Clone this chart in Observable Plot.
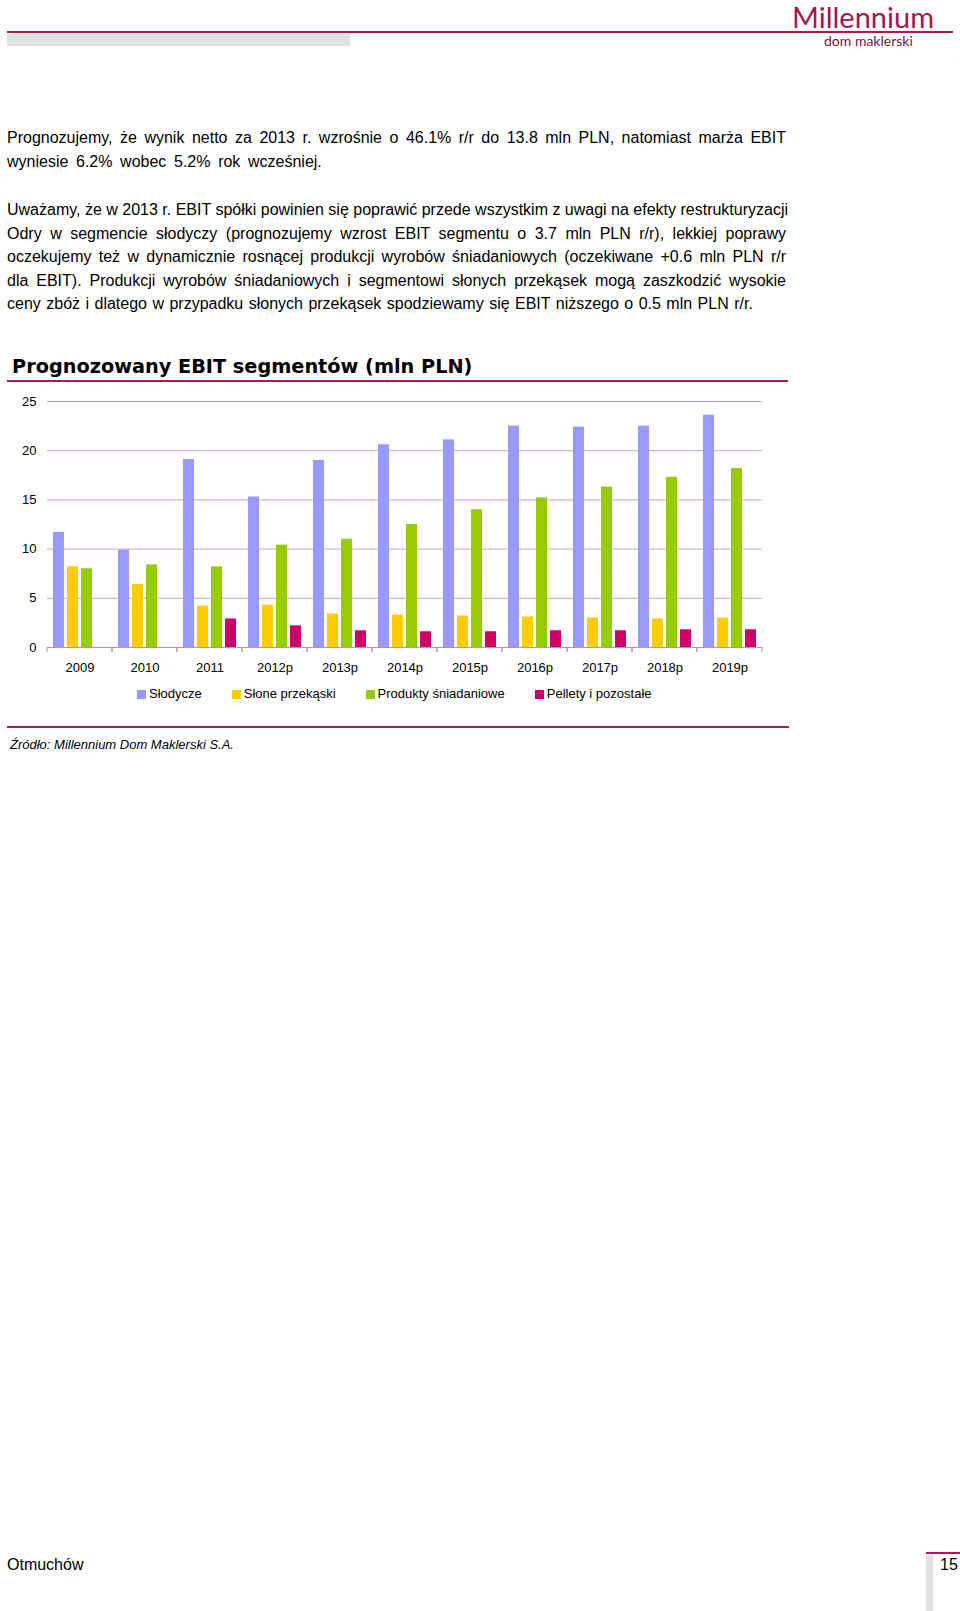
<!DOCTYPE html>
<html><head><meta charset="utf-8">
<script src="https://cdn.jsdelivr.net/npm/d3@7"></script>
<script src="https://cdn.jsdelivr.net/npm/@observablehq/plot@0.6"></script>
<style>
html,body{margin:0;padding:0;background:#fff;}
#page{position:relative;width:960px;height:1611px;overflow:hidden;font-family:"Liberation Sans",Arial,sans-serif;color:#000;}
.abs{position:absolute;}
.para{position:absolute;left:7px;width:779px;font-size:16px;line-height:23.5px;}
.para div{white-space:nowrap;}
.j{text-align:justify;text-align-last:justify;}
#legend{position:absolute;left:137px;top:686px;display:flex;gap:30px;font-size:13px;line-height:16px;}
#legend .item{display:flex;align-items:center;}
#legend .sw{width:9px;height:9px;margin-right:3px;}
</style></head>
<body><div id="page">
  <div class="abs" style="left:792px;top:3px;font-family:Lato,'Open Sans',sans-serif;font-size:29px;line-height:28px;color:#a3174f;">Millennium</div>
  <div class="abs" style="left:7px;top:31px;width:946px;height:2px;background:#b0185a;"></div>
  <div class="abs" style="left:7px;top:34px;width:343px;height:12px;background:#e1e1e1;"></div>
  <div class="abs" style="left:824px;top:34px;font-family:Lato,'Open Sans',sans-serif;font-size:14px;line-height:13px;color:#7a1040;">dom maklerski</div>

  <div class="para" style="top:126px;">
    <div class="j">Prognozujemy, że wynik netto za 2013 r. wzrośnie o 46.1% r/r do 13.8 mln PLN, natomiast marża EBIT</div>
    <div style="word-spacing:3.2px;">wyniesie 6.2% wobec 5.2% rok wcześniej.</div>
  </div>
  <div class="para" style="top:198px;">
    <div class="j">Uważamy, że w 2013 r. EBIT spółki powinien się poprawić przede wszystkim z uwagi na efekty restrukturyzacji</div>
    <div class="j">Odry w segmencie słodyczy (prognozujemy wzrost EBIT segmentu o 3.7 mln PLN r/r), lekkiej poprawy</div>
    <div class="j">oczekujemy też w dynamicznie rosnącej produkcji wyrobów śniadaniowych (oczekiwane +0.6 mln PLN r/r</div>
    <div class="j">dla EBIT). Produkcji wyrobów śniadaniowych i segmentowi słonych przekąsek mogą zaszkodzić wysokie</div>
    <div style="word-spacing:1px;">ceny zbóż i dlatego w przypadku słonych przekąsek spodziewamy się EBIT niższego o 0.5 mln PLN r/r.</div>
  </div>

  <div class="abs" style="left:12px;top:357px;font-family:'DejaVu Sans',Verdana,sans-serif;font-weight:bold;font-size:19.3px;line-height:19.3px;white-space:nowrap;">Prognozowany EBIT segmentów (mln PLN)</div>
  <div class="abs" style="left:7px;top:380px;width:781px;height:2px;background:#b0185a;"></div>

  <div id="chart" class="abs" style="left:0px;top:390px;"></div>
  <div id="legend"></div>

  <div class="abs" style="left:7px;top:726px;width:782px;height:2px;background:#b0185a;"></div>
  <div class="abs" style="left:10px;top:737px;font-size:13px;line-height:16px;font-style:italic;">Źródło: Millennium Dom Maklerski S.A.</div>

  <div class="abs" style="left:7px;top:1555px;font-size:16px;line-height:20px;">Otmuchów</div>
  <div class="abs" style="left:926px;top:1552px;width:34px;height:2px;background:#b0185a;"></div>
  <div class="abs" style="left:926px;top:1555px;width:7px;height:56px;background:#e1e1e1;"></div>
  <div class="abs" style="left:940px;top:1555px;font-size:16px;line-height:20px;">15</div>
</div>
<script>
const years = ["2009","2010","2011","2012p","2013p","2014p","2015p","2016p","2017p","2018p","2019p"];
const seriesNames = ["Słodycze","Słone przekąski","Produkty śniadaniowe","Pellety i pozostałe"];
const slodycze = [11.7, 9.9, 19.1, 15.3, 19.0, 20.6, 21.1, 22.5, 22.4, 22.5, 23.6];
const slone    = [8.2, 6.4, 4.2, 4.3, 3.4, 3.3, 3.2, 3.1, 3.0, 2.9, 3.0];
const produkty = [8.0, 8.4, 8.2, 10.4, 11.0, 12.5, 14.0, 15.2, 16.3, 17.3, 18.2];
const pellety  = [null, null, 2.9, 2.2, 1.7, 1.6, 1.6, 1.7, 1.7, 1.8, 1.8];
const seriesColors = ["#9999ff","#ffcc00","#99cc00","#cc0066"];
const yTicks = [0, 5, 10, 15, 20, 25];

const gridColor = "#c9a3c9";
const axisColor = "#b98fb5";

const seriesValues = [slodycze, slone, produkty, pellety];
const rows = [];
years.forEach((year, i) => {
  seriesNames.forEach((s, k) => {
    const v = seriesValues[k][i];
    if (v != null) rows.push({year, series: s, value: v});
  });
});

function boundaryTicks(index, scales) {
  const g = d3.create("svg:g");
  try {
    const y0 = scales.y(0);
    let xs = [];
    if (scales.x && scales.x.range) xs = scales.x.range();
    g.append("path")
      .attr("d", xs.map(x => `M${x},${y0}v5`).join(""))
      .attr("stroke", axisColor)
      .attr("fill", "none");
  } catch (e) {}
  return g.node();
}

function makePlot(withTicks) {
  const marks = [
    Plot.gridY(yTicks.filter(d => d > 0), {stroke: gridColor, strokeOpacity: 1}),
    Plot.barY(rows, {fx: "year", x: "series", y: "value", fill: "series"}),
    Plot.ruleY([0], {stroke: axisColor}),
    Plot.axisY({ticks: yTicks, tickSize: 0, tickPadding: 11, label: null}),
    Plot.axisFx({anchor: "bottom", tickSize: 0, tickPadding: 15, label: null})
  ];
  if (withTicks) marks.push(boundaryTicks);
  return Plot.plot({
    width: 780,
    height: 287,
    marginTop: 11,
    marginLeft: 45,
    marginRight: 17,
    marginBottom: 30,
    style: {fontFamily: "'Liberation Sans', Arial, sans-serif", fontSize: "13px", color: "#000", background: "transparent", overflow: "visible"},
    fx: {domain: years, padding: 0, label: null},
    x: {domain: seriesNames, paddingInner: 0.2, paddingOuter: 0.32, axis: null},
    y: {domain: [0, 25], label: null},
    color: {domain: seriesNames, range: seriesColors},
    marks
  });
}

let chart;
try { chart = makePlot(true); } catch (e) { chart = makePlot(false); }
document.getElementById("chart").appendChild(chart);

const legend = document.getElementById("legend");
seriesNames.forEach((name, i) => {
  const item = document.createElement("div");
  item.className = "item";
  const sw = document.createElement("span");
  sw.className = "sw";
  sw.style.background = seriesColors[i];
  const t = document.createElement("span");
  t.textContent = name;
  item.appendChild(sw);
  item.appendChild(t);
  legend.appendChild(item);
});
</script>
</body></html>
